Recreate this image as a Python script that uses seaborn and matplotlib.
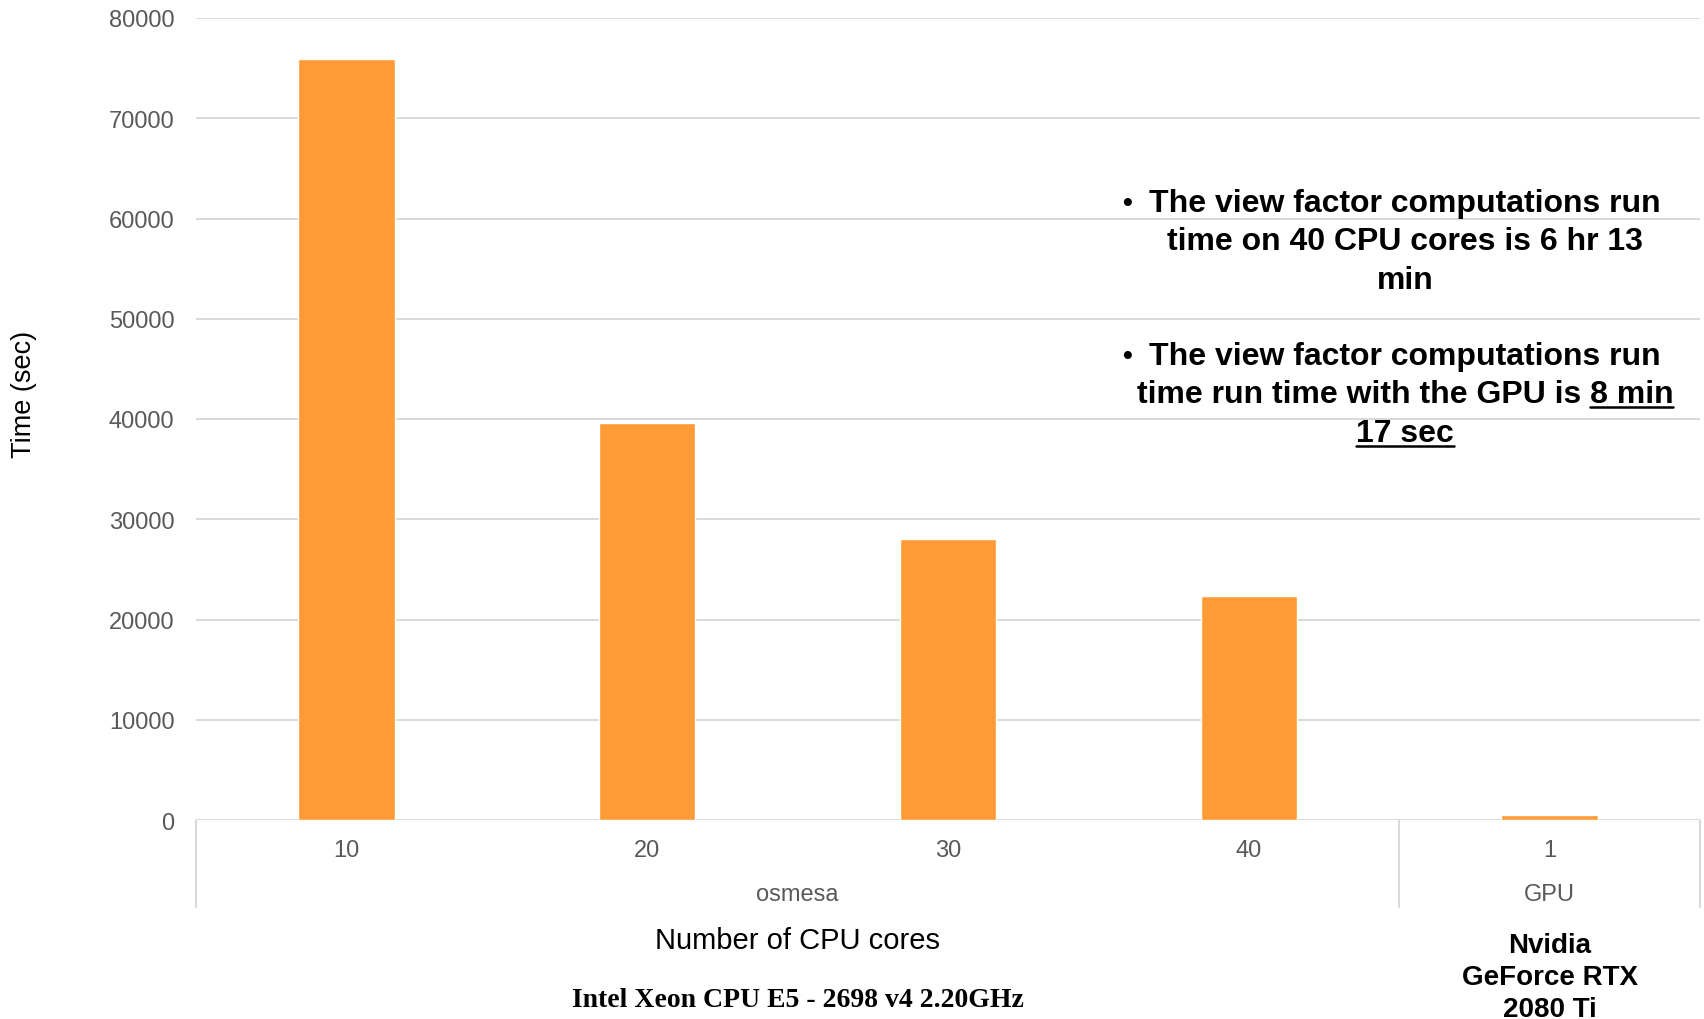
import matplotlib
matplotlib.use("Agg")
import matplotlib.pyplot as plt
from matplotlib.lines import Line2D
import seaborn as sns
import pandas as pd

# Run time of the view factor computations
core_labels = ["10", "20", "30", "40", "1"]
run_time_sec = [75900, 39600, 28000, 22380, 497]
groups = ["osmesa", "osmesa", "osmesa", "osmesa", "GPU"]
y_ticks = [0, 10000, 20000, 30000, 40000, 50000, 60000, 70000, 80000]

df = pd.DataFrame({"cores": core_labels, "time": run_time_sec, "group": groups})

sns.set_theme(style="white")
plt.rcParams["font.family"] = ["Liberation Sans", "DejaVu Sans"]

W, H = 1704, 1020
fig = plt.figure(figsize=(W / 100, H / 100), dpi=100)
ax = fig.add_axes([196 / W, 1 - 821 / H, (1700 - 196) / W, (821 - 19) / H])

sns.barplot(data=df, x="cores", y="time", order=core_labels, color="#FF9B37",
            saturation=1, width=0.32, ax=ax, errorbar=None)

ax.set_xlim(-0.5, 4.5)
ax.set_ylim(0, 80000)
ax.set_yticks(y_ticks)
ax.set_yticklabels([str(v) for v in y_ticks], fontsize=17, color="#595959")
ax.tick_params(axis="y", length=0, pad=15.5)
ax.set_xticks([])
ax.set_xlabel("")
ax.set_ylabel("")
ax.yaxis.grid(True, color="#D9D9D9", linewidth=1.4)
ax.set_axisbelow(True)
for side in ["top", "right", "left", "bottom"]:
    ax.spines[side].set_visible(False)

# Axis-height fraction per pixel, for placing the category labels below the axis
px = 1 / (821 - 19)
xt = ax.get_xaxis_transform()

for i, lab in enumerate(core_labels):
    ax.text(i, -30 * px, lab, transform=xt, ha="center", va="center",
            fontsize=17, color="#595959")

# Group labels and separators
ax.text(1.5, -74 * px, "osmesa", transform=xt, ha="center", va="center",
        fontsize=17, color="#595959")
ax.text(4.0, -74 * px, "GPU", transform=xt, ha="center", va="center",
        fontsize=17, color="#595959")
for xs in [-0.5, 3.5, 4.5]:
    ax.plot([xs, xs], [0, -87 * px], transform=xt, color="#D9D9D9",
            linewidth=1.4, clip_on=False)

ax.text(1.5, -120 * px, "Number of CPU cores", transform=xt, ha="center",
        va="center", fontsize=21, color="black")
ax.text(1.5, -180 * px, "Intel Xeon CPU E5 - 2698 v4 2.20GHz", transform=xt,
        ha="center", va="center", fontsize=20, color="black",
        family=["Liberation Serif"], fontweight="bold")
ax.text(4.0, -157 * px, "Nvidia\nGeForce RTX\n2080 Ti", transform=xt,
        ha="center", va="center", fontsize=20, color="black",
        fontweight="bold", linespacing=1.3)

fig.text(24 / W, 1 - 394 / H, "Time (sec)", rotation=90, ha="center",
         va="center", fontsize=19.5, color="black")

# Notes on the right
cx = 1405 / W
note_lines = [
    (204, "The view factor computations run"),
    (242, "time on 40 CPU cores is 6 hr 13"),
    (281, "min"),
    (357, "The view factor computations run"),
    (395, "time run time with the GPU is 8 min"),
    (434, "17 sec"),
]
note_texts = []
for yp, s in note_lines:
    t = fig.text(cx, 1 - yp / H, s, ha="center", va="center", fontsize=23,
                 fontweight="bold", color="black")
    note_texts.append(t)
for yp in [204, 357]:
    fig.text(1127 / W, 1 - yp / H, "\u2022", ha="center", va="center",
             fontsize=20, fontweight="bold", color="black")

# Underline "8 min" and "17 sec"
fig.canvas.draw()
renderer = fig.canvas.get_renderer()
inv = fig.transFigure.inverted()

bb_line = note_texts[4].get_window_extent(renderer)
probe = fig.text(0, 0, "8 min", fontsize=23, fontweight="bold")
w_probe = probe.get_window_extent(renderer).width
probe.remove()
x1 = bb_line.x1
x0 = x1 - w_probe
yu = H - 408
(fx0, fy), (fx1, _) = inv.transform([(x0, yu), (x1, yu)])
fig.add_artist(Line2D([fx0, fx1], [fy, fy], transform=fig.transFigure,
                      color="black", linewidth=1.8))

bb_last = note_texts[5].get_window_extent(renderer)
yu = H - 447
(fx0, fy), (fx1, _) = inv.transform([(bb_last.x0, yu), (bb_last.x1, yu)])
fig.add_artist(Line2D([fx0, fx1], [fy, fy], transform=fig.transFigure,
                      color="black", linewidth=1.8))

fig.savefig("out.png", dpi=100)
